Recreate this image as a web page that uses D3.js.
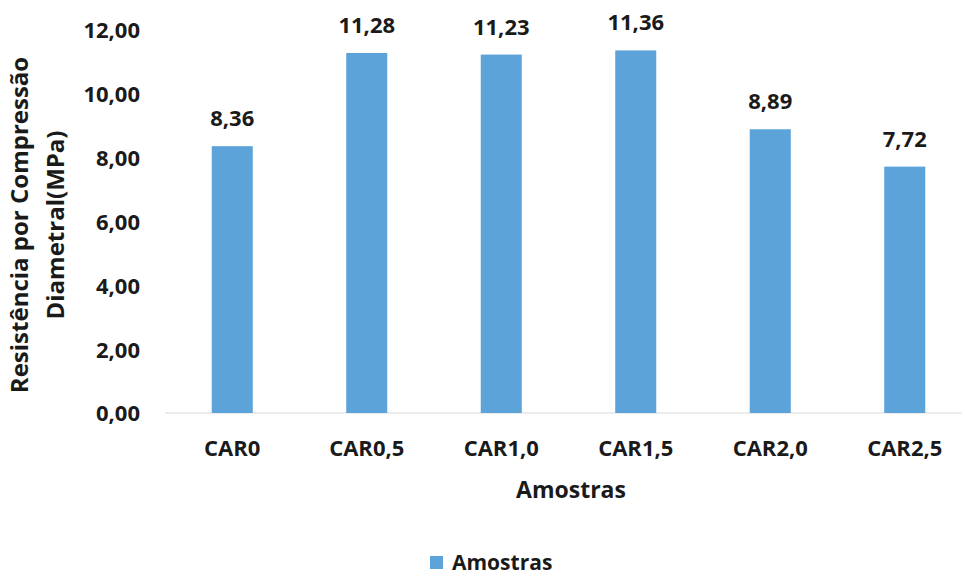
<!DOCTYPE html>
<html>
<head>
<meta charset="utf-8">
<script src="https://cdn.jsdelivr.net/npm/d3@7/dist/d3.min.js"></script>
<style>
  html, body { margin: 0; padding: 0; background: #ffffff; }
  svg text { font-family: "Open Sans", Lato, sans-serif; font-weight: 700; fill: #1a1a1a; }
</style>
</head>
<body>
<svg id="chart" width="967" height="576"></svg>
<script>
// Sample groups and their diametral compression strength (MPa)
const categories = ["CAR0", "CAR0,5", "CAR1,0", "CAR1,5", "CAR2,0", "CAR2,5"];
const values = [8.36, 11.28, 11.23, 11.36, 8.89, 7.72];
const yTicks = [0, 2, 4, 6, 8, 10, 12];
const seriesName = "Amostras";
const xTitle = "Amostras";
const yTitleLines = ["Resistência por Compressão", "Diametral(MPa)"];

const svg = d3.select("#chart");
const fmt = v => v.toFixed(2).replace(".", ",");
const barColor = "#5ba3d9";
const fontFamily = "'Open Sans', Lato, sans-serif";

const x = d3.scaleBand().domain(categories).range([165, 972]).padding(0);
const y = d3.scaleLinear().domain([0, 12]).range([413, 30]);
const barW = x.bandwidth() * 0.305;

// Horizontal baseline
svg.append("line")
  .attr("x1", 165).attr("x2", 962)
  .attr("y1", y(0)).attr("y2", y(0))
  .attr("stroke", "#d9d9d9").attr("stroke-width", 1.2);

// Y axis tick labels (no axis line)
const yAxis = d3.axisLeft(y).tickValues(yTicks).tickFormat(fmt).tickSize(0).tickPadding(0);
const gy = svg.append("g").attr("transform", "translate(140,0)").call(yAxis);
gy.select(".domain").remove();
gy.selectAll("text")
  .attr("font-size", 22).attr("dy", "0.36em")
  .style("font-family", fontFamily).style("font-weight", 700).attr("fill", "#1a1a1a");

// X axis category labels
const xAxis = d3.axisBottom(x).tickSize(0).tickPadding(0);
const gx = svg.append("g").attr("transform", `translate(0,${y(0)})`).call(xAxis);
gx.select(".domain").remove();
gx.selectAll("text")
  .attr("font-size", 22).attr("y", 43).attr("dy", 0)
  .style("font-family", fontFamily).style("font-weight", 700).attr("fill", "#1a1a1a");

// Bars
svg.selectAll("rect.bar")
  .data(values)
  .join("rect")
  .attr("class", "bar")
  .attr("x", (d, i) => x(categories[i]) + x.bandwidth() / 2 - barW / 2)
  .attr("width", barW)
  .attr("y", d => y(d))
  .attr("height", d => y(0) - y(d))
  .attr("fill", barColor);

// Value labels above bars
svg.selectAll("text.val")
  .data(values)
  .join("text")
  .attr("class", "val")
  .attr("x", (d, i) => x(categories[i]) + x.bandwidth() / 2)
  .attr("y", d => y(d) - 20)
  .attr("text-anchor", "middle")
  .attr("font-size", 22)
  .text(fmt);

// Axis titles
svg.append("text")
  .attr("x", 571).attr("y", 498)
  .attr("text-anchor", "middle")
  .attr("font-size", 23)
  .text(xTitle);

const yt = svg.append("text")
  .attr("transform", "translate(0,225) rotate(-90)")
  .attr("text-anchor", "middle")
  .attr("font-size", 24);
yt.append("tspan").attr("x", 0).attr("y", 28).text(yTitleLines[0]);
yt.append("tspan").attr("x", 0).attr("y", 64).text(yTitleLines[1]);

// Legend
const lg = svg.append("g").attr("transform", "translate(430,556)");
lg.append("rect").attr("width", 13).attr("height", 13).attr("fill", barColor);
lg.append("text").attr("x", 22).attr("y", 13.5).attr("font-size", 21).text(seriesName);
</script>
</body>
</html>
